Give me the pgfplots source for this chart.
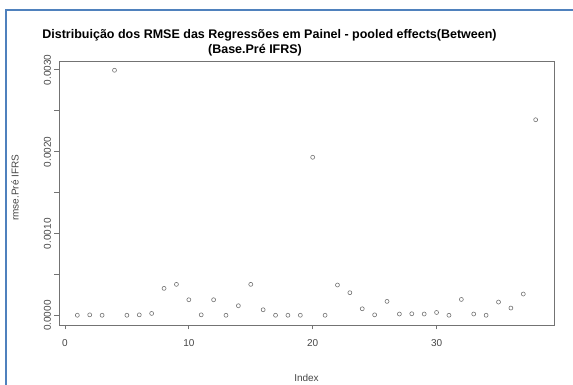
\documentclass[border=0pt]{standalone}
\usepackage{fontspec}
\setmainfont{Liberation Sans}
\usepackage{pgfplots}
\pgfplotsset{compat=1.18}
\definecolor{frameblue}{RGB}{79,129,189}
\definecolor{rgray}{RGB}{115,115,115}
\definecolor{tgray}{RGB}{70,70,70}
\begin{document}
\begin{tikzpicture}[x=1pt,y=1pt]
\path[use as bounding box] (0,0) rectangle (573,385);
\draw[frameblue, line width=2.2pt] (6,-2) -- (6,375) -- (575,375);
\begin{axis}[
  at={(59pt,60pt)}, anchor=south west,
  scale only axis, width=495pt, height=264pt,
  xmin=-0.48, xmax=39.48, ymin=-0.000114, ymax=0.003108,
  axis line style={draw=rgray, line width=0.8pt},
  tick align=outside, tick pos=left,
  major tick length=4.5pt,
  every tick/.style={draw=rgray, line width=0.8pt},
  xtick={0,10,20,30}, xticklabels={0,10,20,30},
  ytick={0,0.0005,0.001,0.0015,0.002,0.0025,0.003},
  yticklabels={0.0000,,0.0010,,0.0020,,0.0030},
  scaled y ticks=false,
  ticklabel style={font=\fontsize{10}{12}\selectfont, text=tgray},
  yticklabel style={rotate=90, anchor=south},
  xticklabel shift=6pt,
  xlabel={Index}, ylabel={rmse.Pré IFRS},
  label style={font=\fontsize{10}{12}\selectfont, text=tgray},
  xlabel style={at={(axis description cs:0.5,-0.2)}, anchor=center},
  ylabel style={at={(axis description cs:-0.089,0.52)}, anchor=center, rotate=0},
  clip=false,
]
\addplot[only marks, mark=o, mark size=2pt, mark options={draw=rgray, line width=0.6pt}] coordinates {
(1,0.000005) (2,0.000010) (3,0.000005) (4,0.002995) (5,0.000005)
(6,0.000010) (7,0.000027) (8,0.000333) (9,0.000382) (10,0.000194)
(11,0.000010) (12,0.000194) (13,0.000005) (14,0.000121) (15,0.000382)
(16,0.000072) (17,0.000005) (18,0.000005) (19,0.000005) (20,0.001933)
(21,0.000005) (22,0.000374) (23,0.000280) (24,0.000084) (25,0.000010)
(26,0.000174) (27,0.000020) (28,0.000023) (29,0.000020) (30,0.000039)
(31,0.000005) (32,0.000198) (33,0.000020) (34,0.000005) (35,0.000166)
(36,0.000093) (37,0.000264) (38,0.002391)
};
\node[font=\bfseries\fontsize{12.5}{14}\selectfont, anchor=center] at (axis description cs:0.4253,1.098) {Distribuição dos RMSE das Regressões em Painel - pooled effects(Between)};
\node[font=\bfseries\fontsize{12.5}{14}\selectfont, anchor=center] at (axis description cs:0.396,1.042) {(Base.Pré IFRS)};
\end{axis}
\end{tikzpicture}
\end{document}
